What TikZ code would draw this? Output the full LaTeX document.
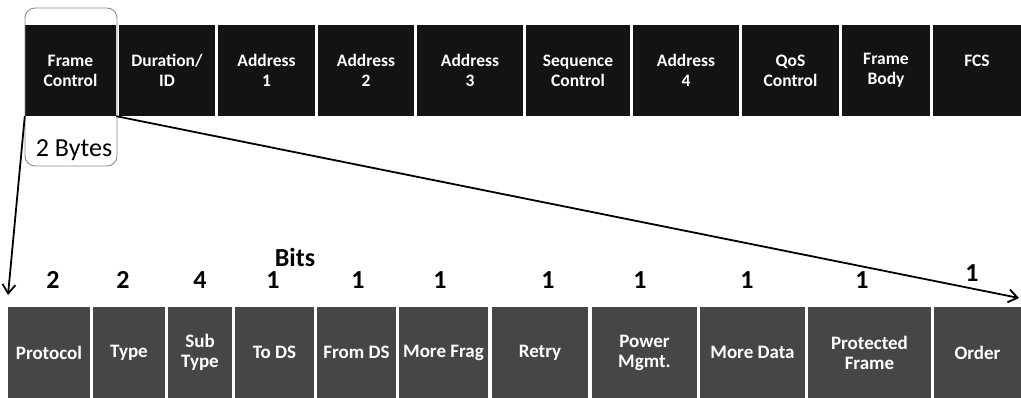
\documentclass[tikz,border=0pt]{standalone}
\usepackage{fontspec}
\setmainfont{Carlito}
\usetikzlibrary{arrows.meta,positioning}

\definecolor{topfill}{HTML}{131313}
\definecolor{botfill}{HTML}{464646}
\definecolor{outline}{HTML}{8A8A8A}

\begin{document}
\begin{tikzpicture}[
  x=1pt, y=-1pt,
  topbox/.style={fill=topfill, text=white, align=center, inner sep=0pt,
    minimum height=91pt, font=\bfseries\fontsize{17.5}{20}\selectfont},
  botbox/.style={fill=botfill, text=white, align=center, inner sep=0pt,
    minimum height=91pt, font=\bfseries\fontsize{19}{20}\selectfont},
  bitnum/.style={anchor=base, inner sep=0pt, font=\bfseries\fontsize{26}{30}\selectfont},
  zoomline/.style={-{Straight Barb[length=9pt,width=13pt]}, line width=1.8pt}
]
\useasboundingbox (0,0) rectangle (1021,398);
% MAC header fields
\node[topbox, minimum width=91pt] (fc) at (70.5,70.5) {Frame\\Control};
\node[topbox, minimum width=96pt] (dur) at (167,70.5) {Duration/\\ID};
\node[topbox, minimum width=97pt] (ad1) at (266.5,70.5) {Address\\1};
\node[topbox, minimum width=96pt] (ad2) at (366,70.5) {Address\\2};
\node[topbox, minimum width=106pt] (ad3) at (470,70.5) {Address\\3};
\node[topbox, minimum width=104pt] (seq) at (578,70.5) {Sequence\\Control};
\node[topbox, minimum width=106pt] (ad4) at (686,70.5) {Address\\4};
\node[topbox, minimum width=97pt] (qos) at (790.5,70.5) {QoS\\Control};
\node[topbox, minimum width=88pt] (body) at (886,70.5) {Frame\\Body};
\node[topbox, minimum width=88pt] (fcs) at (977,70.5) {FCS\\\mbox{}};
% frame control highlight
\node[draw=outline, line width=0.9pt, rounded corners=10pt, inner sep=0pt,
  minimum width=92pt, minimum height=158pt] (fcmark) at (71,87) {};
\node[anchor=base, inner sep=0pt, font=\fontsize{26}{30}\selectfont] (bytes) at (74,157) {2 Bytes};
% frame control subfields
\node[botbox, minimum width=82pt] (proto) at (49,352.5) {Protocol};
\node[botbox, minimum width=72pt] (type) at (129,352.5) {Type};
\node[botbox, minimum width=64pt] (sub) at (200,352.5) {Sub\\Type};
\node[botbox, minimum width=79pt] (tods) at (274.5,352.5) {To DS};
\node[botbox, minimum width=79pt] (fromds) at (356.5,352.5) {From DS};
\node[botbox, minimum width=89pt] (frag) at (443.5,352.5) {More Frag};
\node[botbox, minimum width=96pt] (retry) at (540,352.5) {Retry};
\node[botbox, minimum width=105pt] (pwr) at (644.5,352.5) {Power\\Mgmt.};
\node[botbox, minimum width=105pt] (data) at (752.5,352.5) {More Data};
\node[botbox, minimum width=123pt] (prot) at (869.5,352.5) {Protected\\Frame};
\node[botbox, minimum width=87pt] (order) at (977.5,352.5) {Order};
% bit widths
\node[bitnum] (bits) at (295,267) {Bits};
\foreach \bx/\bn in {53/2, 123/2, 200/4, 273/1, 358/1, 440/1, 548/1, 640/1, 747/1, 862/1}
  \node[bitnum] at (\bx,289) {\bn};
\node[bitnum] (ordbit) at (972,282) {1};
% zoom lines
\coordinate (lefttip) at (8,295);
\coordinate (righttip) at (1019,298);
\draw[zoomline] (fc.south west) -- (lefttip);
\draw[zoomline] (fc.south east) -- (righttip);
\end{tikzpicture}
\end{document}
